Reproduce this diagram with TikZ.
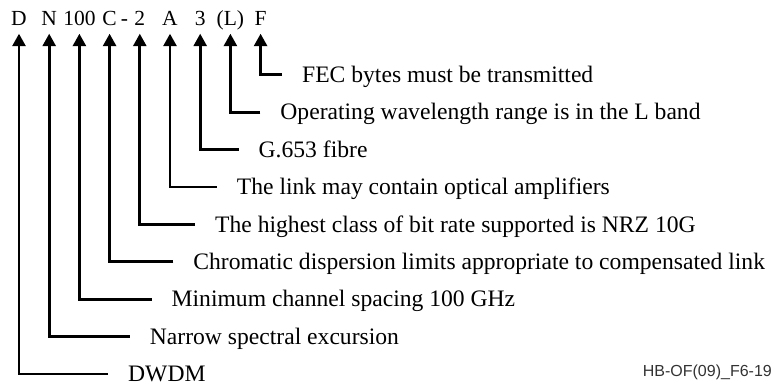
\documentclass[tikz,border=0pt]{standalone}
\usepackage{fontspec}
\setmainfont{Liberation Serif}
\newfontfamily\idfont{Liberation Sans}
\usetikzlibrary{arrows.meta}
\tikzset{
  hdr/.style={inner sep=0pt, anchor=base, text depth=0pt, font=\fontsize{21.5}{24}\selectfont},
  lbl/.style={inner sep=0pt, anchor=base west, font=\fontsize{23.6}{28}\selectfont},
  arr/.style={line width=2.8pt, -{Triangle[width=13pt,length=12.5pt]}},
  idtxt/.style={inner sep=0pt, anchor=base east, text=black!80, font=\idfont\fontsize{16}{19}\selectfont}
}
\begin{document}
\begin{tikzpicture}[x=1pt,y=-1pt]
\useasboundingbox (0,0) rectangle (774,387);
% header code letters
\node[hdr] (hD) at (19,25.5) {D};
\node[hdr] (hN) at (49.2,25.5) {N};
\node[hdr] (h100) at (79.4,25.5) {100};
\node[hdr] (hC) at (109.6,25.5) {C};
\node[hdr] (hdash) at (124.5,25.5) {-};
\node[hdr] (h2) at (139.8,25.5) {2};
\node[hdr] (hA) at (170,25.5) {A};
\node[hdr] (h3) at (200.2,25.5) {3};
\node[hdr] (hL) at (230.4,25.5) {(L)};
\node[hdr] (hF) at (260.6,25.5) {F};
% labels
\node[lbl] (lF) at (302,82.6) {FEC bytes must be transmitted};
\node[lbl] (lL) at (280.25,120) {Operating wavelength range is in the L band};
\node[lbl] (l3) at (258.5,157.4) {G.653 fibre};
\node[lbl] (lA) at (236.75,194.8) {The link may contain optical amplifiers};
\node[lbl] (l2) at (215,232.2) {The highest class of bit rate supported is NRZ 10G};
\node[lbl] (lC) at (193.25,269.6) {Chromatic dispersion limits appropriate to compensated link};
\node[lbl] (l100) at (171.5,307) {Minimum channel spacing 100 GHz};
\node[lbl] (lN) at (149.75,344.4) {Narrow spectral excursion};
\node[lbl] (lD) at (128,381.8) {DWDM};
% connectors
\draw[arr] ([shift={(-20pt,7.8pt)}]lF.base west) -| ([yshift=-8pt]hF.south);
\draw[arr] ([shift={(-20pt,7.8pt)}]lL.base west) -| ([yshift=-8pt]hL.south);
\draw[arr] ([shift={(-20pt,7.8pt)}]l3.base west) -| ([yshift=-8pt]h3.south);
\draw[arr] ([shift={(-20pt,7.8pt)}]lA.base west) -| ([yshift=-8pt]hA.south);
\draw[arr] ([shift={(-20pt,7.8pt)}]l2.base west) -| ([yshift=-8pt]h2.south);
\draw[arr] ([shift={(-20pt,7.8pt)}]lC.base west) -| ([yshift=-8pt]hC.south);
\draw[arr] ([shift={(-20pt,7.8pt)}]l100.base west) -| ([yshift=-8pt]h100.south);
\draw[arr] ([shift={(-20pt,7.8pt)}]lN.base west) -| ([yshift=-8pt]hN.south);
\draw[arr] ([shift={(-20pt,7.8pt)}]lD.base west) -| ([yshift=-8pt]hD.south);
% figure id
\node[idtxt] (fid) at (772,377) {HB-OF(09)\_F6-19};
\end{tikzpicture}
\end{document}
